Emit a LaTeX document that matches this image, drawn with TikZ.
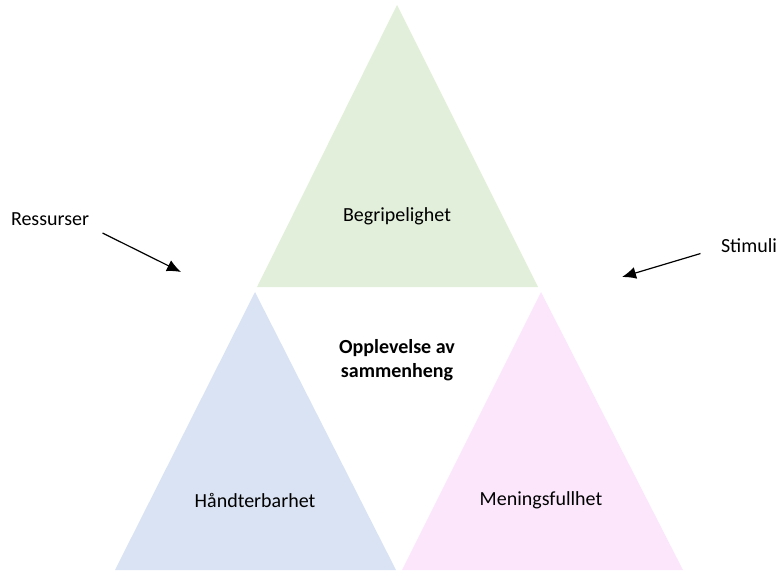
\documentclass[tikz,border=0pt]{standalone}
\usepackage{fontspec}
\setmainfont{Carlito}
\usetikzlibrary{arrows.meta}
\definecolor{gronn}{HTML}{E2EFDA}
\definecolor{blaa}{HTML}{DAE3F3}
\definecolor{rosa}{HTML}{FCE6FC}
\tikzset{
  tekst/.style={font=\fontsize{20}{24}\selectfont, align=center},
  pil/.style={-{Latex[length=14pt,width=12pt]}, line width=1.2pt},
}
\begin{document}
\begin{tikzpicture}[x=1pt,y=-1pt]
\useasboundingbox (0,0) rectangle (779,571);
%triangles
\fill[gronn] (397,5)   -- (257,287) -- (538,287) -- cycle;
\fill[blaa]  (255,292) -- (115,570) -- (396,570) -- cycle;
\fill[rosa]  (541,292) -- (402,570) -- (683,570) -- cycle;

\node[tekst](begrip)    at (397,216) {Begripelighet};
\node[tekst,font=\fontsize{20}{24}\selectfont\bfseries](sammenheng) at (397,360) {Opplevelse av\\sammenheng};
\node[tekst](haandter)  at (255,500) {Håndterbarhet};
\node[tekst](mening)    at (541,500) {Meningsfullhet};
\node[tekst](ressurser) at (50,219)  {Ressurser};
\node[tekst](stimuli)   at (749,246) {Stimuli};

\coordinate(ressurser-tip) at (181,272);
\coordinate(stimuli-tip)   at (622,277);
\draw[pil] (ressurser.south east) ++(10,4) -- (ressurser-tip);
\draw[pil] (stimuli.south west)   ++(-17,-3) -- (stimuli-tip);
\end{tikzpicture}
\end{document}
